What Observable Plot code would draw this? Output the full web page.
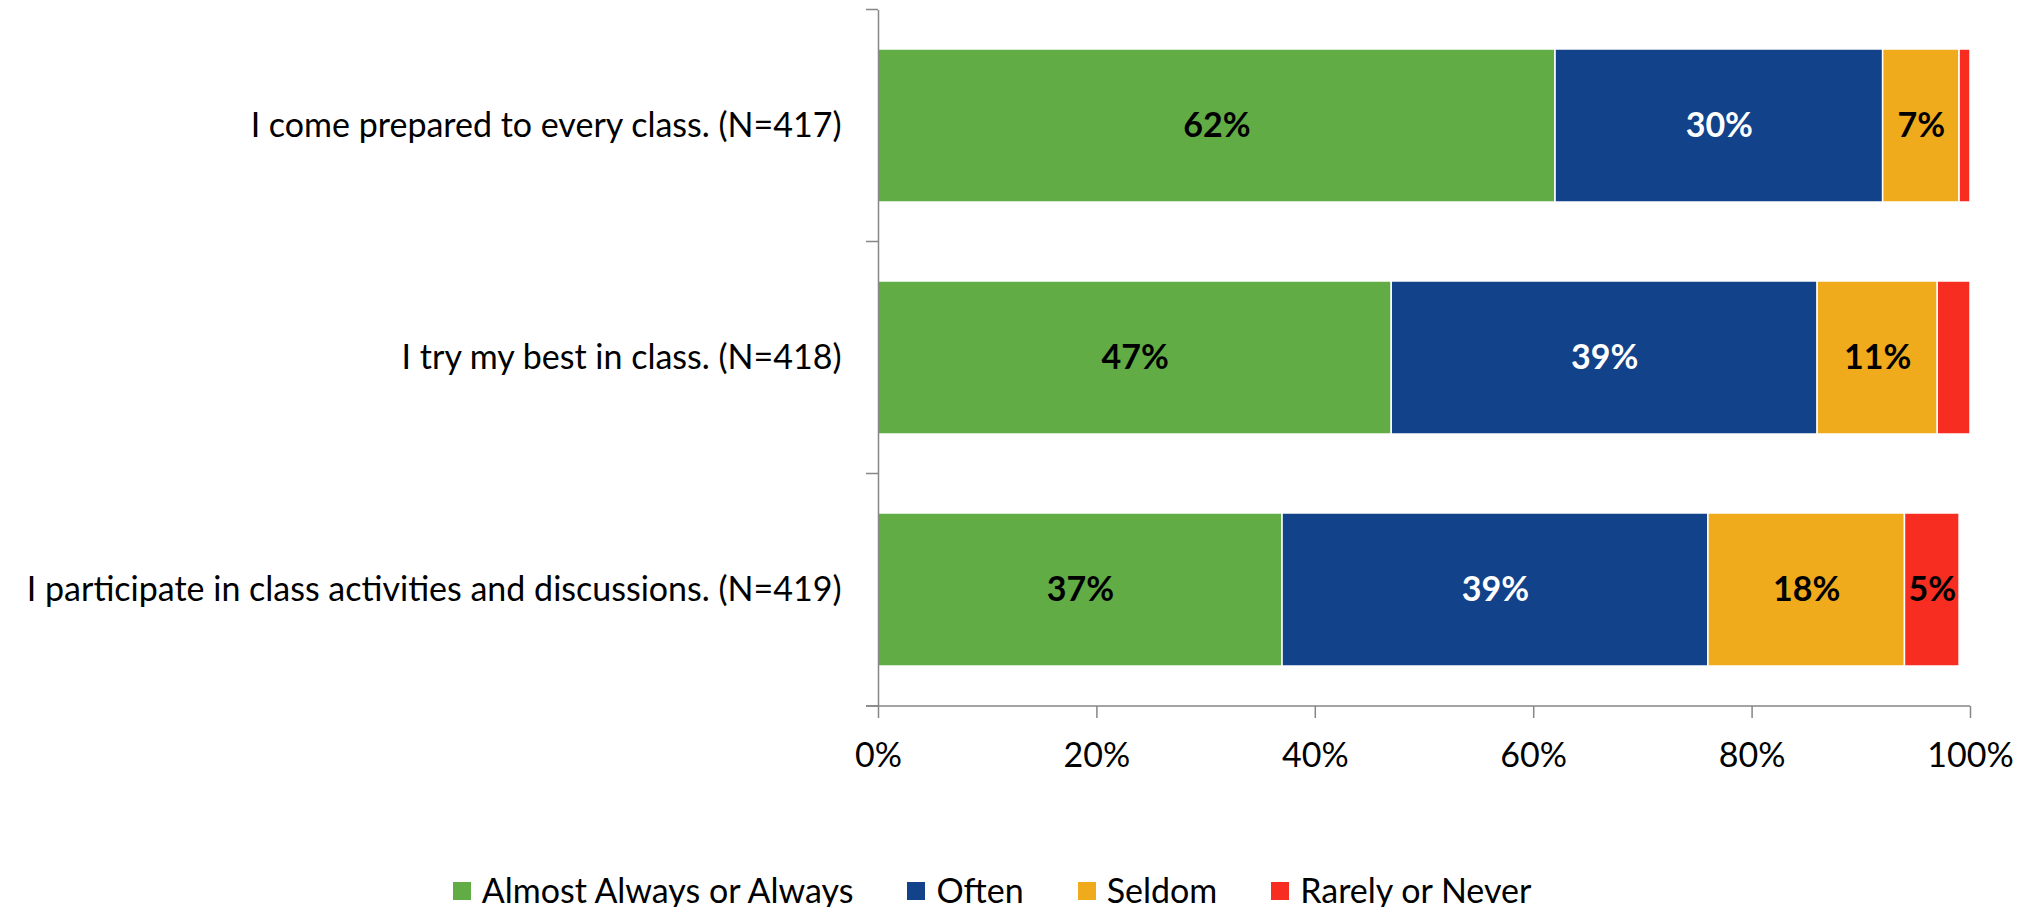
<!DOCTYPE html>
<html><head><meta charset="utf-8">
<script src="https://cdn.jsdelivr.net/npm/d3@7"></script>
<script src="https://cdn.jsdelivr.net/npm/@observablehq/plot@0.6"></script>
<style>
html,body{margin:0;background:#fff;font-family:Lato,"Open Sans",sans-serif;overflow:hidden;}
#chart svg{display:block;}
#legend{display:flex;justify-content:center;align-items:center;width:1984px;height:34px;line-height:34px;margin-top:83px;font-size:34px;color:#000;}
#legend .item{display:flex;align-items:center;margin:0 27px;}
#legend .sw{width:18px;height:18px;margin-right:11px;margin-top:2px;}
</style></head>
<body>
<div id="chart"></div>
<div id="legend"></div>
<script>
const questions = [
  "I come prepared to every class. (N=417)",
  "I try my best in class. (N=418)",
  "I participate in class activities and discussions. (N=419)"
];
const responses = ["Almost Always or Always", "Often", "Seldom", "Rarely or Never"];
const colors = ["#62AC46", "#124289", "#F0AB1D", "#F72D22"];
const almostAlways = [62, 47, 37];
const often = [30, 39, 39];
const seldom = [7, 11, 18];
const rarely = [1, 3, 5];
const xTicks = [0, 20, 40, 60, 80, 100];
const xTickLabels = ["0%", "20%", "40%", "60%", "80%", "100%"];

const series = [almostAlways, often, seldom, rarely];
const data = [];
questions.forEach((q, i) => {
  responses.forEach((r, j) => data.push({q, r, v: series[j][i]}));
});

const axisColor = "#868686";
const chart = Plot.plot({
  width: 2030, height: 790,
  marginLeft: 878, marginRight: 60, marginTop: 10, marginBottom: 84,
  style: {fontFamily: "Lato, 'Open Sans', sans-serif", fontSize: "34px", color: "#000", background: "#fff", overflow: "visible"},
  x: {domain: [0, 100]},
  y: {domain: questions, paddingInner: 0.34, paddingOuter: 0.17},
  color: {domain: responses, range: colors},
  marks: [
    Plot.barX(data, {x: "v", y: "q", fill: "r", stroke: "#fff", strokeWidth: 1.5}),
    Plot.text(data, Plot.stackX({x: "v", y: "q", text: d => (d.r !== "Often" && d.v >= 5) ? d.v + "%" : "", fill: "#000", fontWeight: "bold"})),
    Plot.text(data, Plot.stackX({x: "v", y: "q", text: d => (d.r === "Often" && d.v >= 5) ? d.v + "%" : "", fill: "#fff", fontWeight: "bold"})),
    Plot.ruleX([0], {stroke: axisColor, strokeWidth: 1.5}),
    Plot.axisX({ticks: xTicks, tickFormat: d => xTickLabels[xTicks.indexOf(d)], tickSize: 12, tickPadding: 24, stroke: axisColor, strokeWidth: 1.5, strokeOpacity: 1, label: null, fill: "#000"}),
    Plot.axisY({tickSize: 0, tickPadding: 37, label: null, fill: "#000"})
  ]
});
document.getElementById("chart").appendChild(chart);

// axis line and category boundary ticks from the library's scales
const sx = chart.scale("x"), sy = chart.scale("y");
const svg = d3.select(chart);
const g = svg.append("g").attr("stroke", axisColor).attr("stroke-width", 1.5);
const yBottom = sy.range[1];
const x0 = sx.apply(0), x1 = sx.apply(100);
g.append("line").attr("x1", x0 - 12).attr("x2", x1).attr("y1", yBottom).attr("y2", yBottom);
const bounds = [];
questions.forEach(q => bounds.push(sy.apply(q) - (sy.step - sy.bandwidth) / 2));
bounds.push(yBottom);
bounds.forEach(b => g.append("line").attr("x1", x0 - 12).attr("x2", x0).attr("y1", b).attr("y2", b));

// legend
const legend = d3.select("#legend");
responses.forEach((r, j) => {
  const it = legend.append("div").attr("class", "item");
  it.append("div").attr("class", "sw").style("background", colors[j]);
  it.append("span").text(r);
});
</script>
</body></html>
